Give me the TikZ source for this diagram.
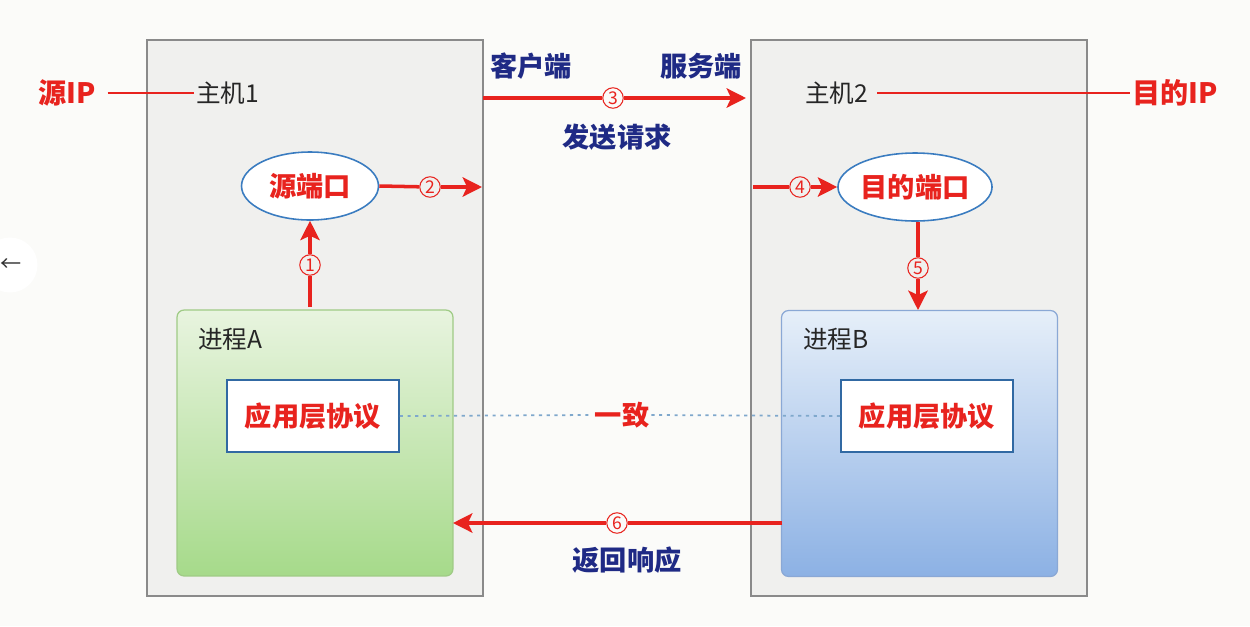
\documentclass[tikz,border=0pt]{standalone}
\usepackage{fontspec}
\newfontfamily\cjk{Noto Sans CJK SC}
\usetikzlibrary{arrows.meta,shapes.geometric}
\definecolor{myred}{HTML}{E8231E}
\definecolor{navy}{HTML}{1F2A85}
\definecolor{hostfill}{HTML}{F0F0EE}
\definecolor{hostdraw}{HTML}{8A8A8A}
\definecolor{ellblue}{HTML}{3A7CC0}
\definecolor{bg}{HTML}{FBFBF9}
\definecolor{gtop}{HTML}{E8F4DF}
\definecolor{gbot}{HTML}{A6DA8A}
\definecolor{gdraw}{HTML}{9FCB85}
\definecolor{btop}{HTML}{E6EFF9}
\definecolor{bbot}{HTML}{8CB1E4}
\definecolor{bdraw}{HTML}{8AA8D5}
\definecolor{dotc}{HTML}{7FA8CC}
\tikzset{
  host/.style={draw=hostdraw, line width=0.8pt, fill=hostfill, minimum width=6.72cm, minimum height=11.12cm, inner sep=0pt},
  proc/.style={rounded corners=4pt, line width=0.7pt, minimum width=5.52cm, minimum height=5.32cm, inner sep=0pt},
  proto/.style={draw=ellblue!85!black, line width=0.9pt, fill=white, minimum width=3.44cm, minimum height=1.44cm, inner sep=0pt, text=myred, font=\cjk\bfseries\fontsize{15.5}{18}\selectfont},
  port/.style={ellipse, draw=ellblue, line width=0.9pt, fill=white, minimum width=2.74cm, minimum height=1.36cm, inner sep=0pt, text=myred, font=\cjk\bfseries\fontsize{15.5}{18}\selectfont},
  redlbl/.style={text=myred, font=\cjk\bfseries\fontsize{16}{19}\selectfont, inner sep=1pt},
  navylbl/.style={text=navy, font=\cjk\bfseries\fontsize{15.5}{18}\selectfont, inner sep=1pt},
  plain/.style={text=black!85, font=\cjk\fontsize{14}{16}\selectfont, inner sep=1pt},
  num/.style={circle, draw=myred, line width=0.6pt, text=myred, inner sep=0pt, minimum size=0.41cm, font=\cjk\fontsize{10}{11}\selectfont},
  redline/.style={draw=myred, line width=2pt},
  redarrow/.style={redline, -{Stealth[length=11pt,width=11pt,inset=2.5pt]}},
  thinred/.style={draw=myred, line width=1.1pt},
  dotline/.style={draw=dotc, line width=1pt, dash pattern=on 1.8pt off 2.6pt}
}
\begin{document}
\begin{tikzpicture}[x=0.02cm, y=-0.02cm]
\useasboundingbox (0,0) rectangle (1250,626);
\fill[bg] (0,0) rectangle (1250,626);
% UI button at left edge
\node[circle, fill=white, minimum size=1.1cm, inner sep=0pt] (btn) at (10,265) {};
\node[font=\cjk\fontsize{12}{14}\selectfont, text=black!80, inner sep=0pt] (btnarr) at (11,265) {←};
% hosts
\node[host] (h1) at (315,318) {};
\node[host] (h2) at (919,318) {};
% processes
\node[proc, draw=gdraw, top color=gtop, bottom color=gbot] (pa) at (315,443) {};
\node[proc, draw=bdraw, top color=btop, bottom color=bbot] (pb) at (919.5,443.5) {};
\node[plain, anchor=west] (pal) at (196,339) {进程A};
\node[plain, anchor=west] (pbl) at (801,339) {进程B};
% protocol boxes
\node[proto] (protoA) at (313,416) {应用层协议};
\node[proto] (protoB) at (927,416) {应用层协议};
\node[redlbl, font=\cjk\bfseries\fontsize{15.5}{18}\selectfont] (yz) at (622,415) {一致};
\draw[dotline] (protoA.east) -- (yz.west);
\draw[dotline] (yz.east) -- (protoB.west);
% host labels and IPs
\node[plain, anchor=west] (m1) at (194,93) {主机1};
\node[plain, anchor=west, inner xsep=5pt] (m2) at (796,93) {主机2};
\node[redlbl] (sip) at (67,93) {源IP};
\node[redlbl] (dip) at (1175,93) {目的IP};
\draw[thinred] (sip.east) ++(10,0) coordinate (sipe) -- (m1.west);
\draw[thinred] (m2.east) -- (dip.west);
% client/server labels
\node[navylbl] (cli) at (531,66) {客户端};
\node[navylbl] (srv) at (701,66) {服务端};
\node[navylbl] (req) at (617,137) {发送请求};
\node[navylbl] (resp) at (627,560) {返回响应};
% ports
\node[port] (e1) at (310,186) {源端口};
\node[port] (e2) at (915,187) {目的端口};
% circled numbers
\node[num] (n1) at (310,265) {1};
\node[num] (n2) at (430,187) {2};
\node[num] (n3) at (613,98) {3};
\node[num] (n4) at (800,187) {4};
\node[num] (n5) at (918,268) {5};
\node[num] (n6) at (617,523) {6};
% coordinates
\coordinate (a1s) at (310,307);
\coordinate (a2e) at (482,187);
\coordinate (a3s) at (483,98);
\coordinate (a3e) at (746,98);
\coordinate (a4s) at (753,187);
\coordinate (a5s) at (918,222);
\coordinate (a5e) at (918,310);
\coordinate (a6s) at (782,523);
\coordinate (a6e) at (453,523);
% arrows
\draw[redline] (a1s) -- (n1);
\draw[redarrow] (n1) -- (e1.south);
\draw[redline] (e1.east) -- (n2);
\draw[redarrow] (n2) -- (a2e);
\draw[redline] (a3s) -- (n3);
\draw[redarrow] (n3) -- (a3e);
\draw[redline] (a4s) -- (n4);
\draw[redarrow] (n4) -- (e2.west);
\draw[redline] (a5s) -- (n5);
\draw[redarrow] (n5) -- (a5e);
\draw[redline] (a6s) -- (n6);
\draw[redarrow] (n6) -- (a6e);
\end{tikzpicture}
\end{document}
